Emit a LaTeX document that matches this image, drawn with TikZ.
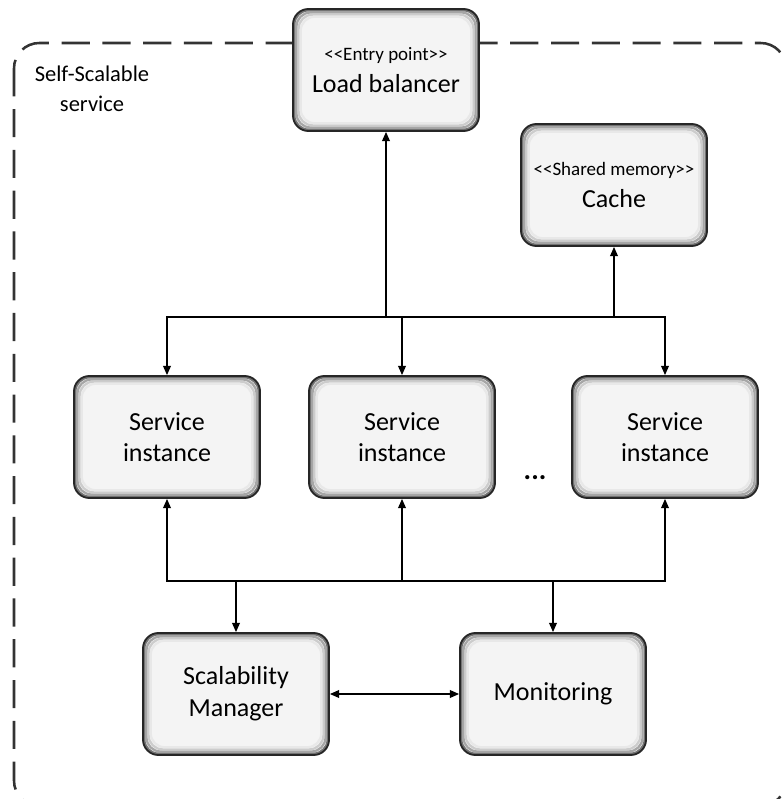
\documentclass[tikz,border=0pt]{standalone}
\usepackage{fontspec}
\newfontfamily\boxfont{Carlito}
\usetikzlibrary{arrows.meta}

\definecolor{boxfill}{HTML}{F4F4F4}
\definecolor{framegray}{HTML}{333333}
\newcommand{\stereo}[1]{{\fontsize{13.5}{16}\selectfont <\kern0pt<#1>\kern0pt>}}

\tikzset{
  box/.style={draw=black!85, line width=1.3pt, fill=boxfill, rounded corners=11pt,
    minimum width=4.65cm, minimum height=3.05cm, align=center,
    font=\boxfont\fontsize{18.5}{22.5}\selectfont,
    path picture={
      \foreach \ins/\shade in {1/55,2.5/35,4/20,5.5/9}
        \draw[black!\shade, line width=1.6pt, rounded corners=10pt]
          ([xshift=\ins pt,yshift=-\ins pt]path picture bounding box.north west) rectangle
          ([xshift=-\ins pt,yshift=\ins pt]path picture bounding box.south east);
    }},
  link/.style={line width=0.9pt, -{Triangle[width=5.5pt,length=6.5pt]}},
  twoway/.style={line width=0.9pt, {Triangle[width=5.5pt,length=6.5pt]}-{Triangle[width=5.5pt,length=6.5pt]}},
}

\begin{document}
\begin{tikzpicture}[x=0.025cm, y=-0.025cm]
        \useasboundingbox (0,0) rectangle (781,799);

        % dashed frame of the service
        \draw[framegray, line width=1.8pt, dash pattern=on 20pt off 9pt, rounded corners=18pt]
          (14,43) rectangle (786,806);
        \node (title) at (92,89) [align=center, font=\boxfont\fontsize{16}{21}\selectfont]
          {Self-Scalable\\service};

        \node (lb)    at (386, 70) [box] {\stereo{Entry point}\\Load balancer};
        \node (cache) at (614,185) [box] {\stereo{Shared memory}\\Cache};

        \node (s1) at (167,437) [box] {Service\\instance};
        \node (s2) at (402,437) [box] {Service\\instance};
        \node (s3) at (665,437) [box] {Service\\instance};
        \node (dots) at (535,478) [font=\boxfont\bfseries\fontsize{20}{22}\selectfont] {...};

        \node (sm)  at (236,694) [box] {Scalability\\Manager};
        \node (mon) at (553,694) [box] {Monitoring};

        % upper bus
        \coordinate (top) at (386,317);
        \draw[link] (top) -- (lb.south);
        \draw[link] (top) -| (s1.north);
        \draw[link] (top) -| (s2.north);
        \draw[link] (top) -| (s3.north);
        \draw[link] (top) -| (cache.south);

        % lower bus
        \coordinate (low) at (402,581);
        \draw[link] (low) -| (s1.south);
        \draw[link] (low) -- (s2.south);
        \draw[link] (low) -| (s3.south);
        \draw[link] (low) -| (sm.north);
        \draw[link] (low) -| (mon.north);

        \draw[twoway] (sm) -- (mon);
\end{tikzpicture}
\end{document}
